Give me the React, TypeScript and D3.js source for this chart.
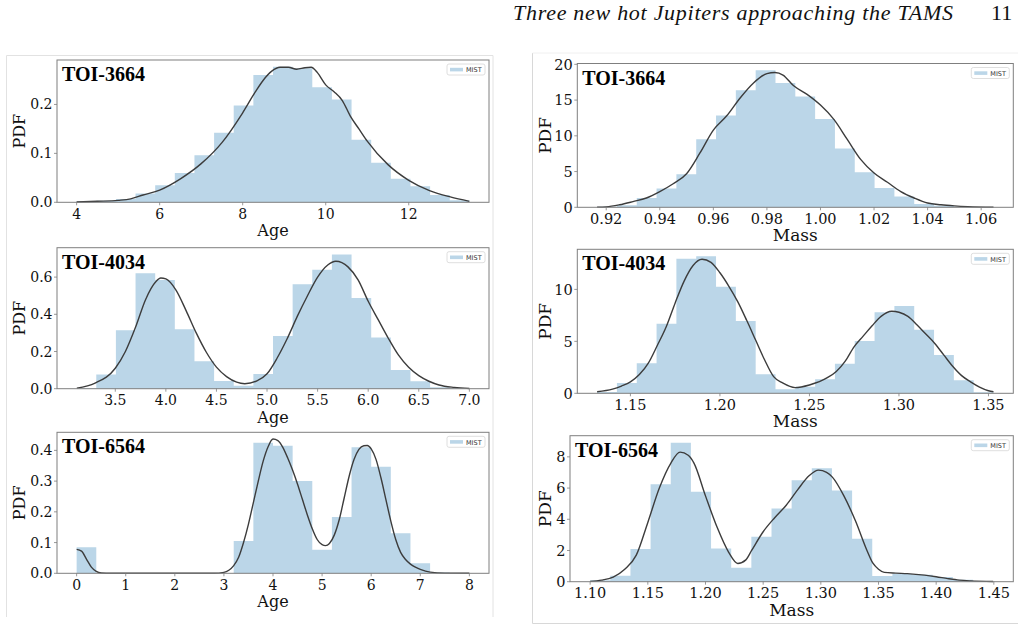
import React from "react";
import * as d3 from "d3";

// values: 20-bin histograms (density) + KDE curves

// TOI-3664 age
const AGE_3664_RANGE = [4.0, 13.46];
const AGE_3664_HIST = [0.002, 0.003, 0.007, 0.018, 0.035, 0.06, 0.096, 0.142, 0.198, 0.26, 0.277, 0.274, 0.235, 0.21, 0.128, 0.081, 0.048, 0.033, 0.015, 0.004];
const AGE_3664_KDE = [
  [4.0, 0.0005], [4.5, 0.002], [5.0, 0.004], [5.3, 0.007], [5.6, 0.015], [6.0, 0.025], [6.5, 0.048], [7.0, 0.079],
  [7.5, 0.122], [8.0, 0.183], [8.3, 0.225], [8.5, 0.25], [8.7, 0.268], [8.9, 0.276], [9.1, 0.276], [9.3, 0.272],
  [9.5, 0.275], [9.65, 0.276], [9.8, 0.265], [10.0, 0.24], [10.2, 0.226], [10.4, 0.208], [10.6, 0.175], [10.8, 0.15],
  [11.0, 0.125], [11.5, 0.077], [12.0, 0.045], [12.5, 0.024], [13.0, 0.011], [13.46, 0.002],
];
const AGE_3664_XTICKS = [4, 6, 8, 10, 12];
const AGE_3664_YTICKS = [0, 0.1, 0.2];

// TOI-4034 age
const AGE_4034_RANGE = [3.118, 7.0];
const AGE_4034_HIST = [0.003, 0.076, 0.314, 0.621, 0.584, 0.32, 0.148, 0.042, 0.016, 0.079, 0.284, 0.561, 0.639, 0.722, 0.487, 0.275, 0.1, 0.04, 0.008, 0.002];
const AGE_4034_KDE = [
  [3.12, 0.003], [3.3, 0.03], [3.5, 0.11], [3.6, 0.2], [3.7, 0.33], [3.8, 0.48], [3.9, 0.575], [3.95, 0.595],
  [4.0, 0.59], [4.1, 0.53], [4.2, 0.42], [4.3, 0.3], [4.4, 0.196], [4.5, 0.116], [4.6, 0.065], [4.7, 0.035],
  [4.78, 0.027], [4.9, 0.042], [5.0, 0.08], [5.1, 0.165], [5.2, 0.27], [5.3, 0.39], [5.4, 0.5], [5.5, 0.6],
  [5.6, 0.665], [5.68, 0.685], [5.8, 0.655], [5.9, 0.585], [6.0, 0.47], [6.1, 0.37], [6.2, 0.27], [6.3, 0.18],
  [6.4, 0.115], [6.5, 0.07], [6.6, 0.04], [6.7, 0.02], [6.85, 0.007], [7.0, 0.001],
];
const AGE_4034_XTICKS = [3.5, 4.0, 4.5, 5.0, 5.5, 6.0, 6.5, 7.0];
const AGE_4034_YTICKS = [0, 0.2, 0.4, 0.6];

// TOI-6564 age
const AGE_6564_RANGE = [0, 8.0];
const AGE_6564_HIST = [0.085, 0, 0, 0, 0, 0, 0, 0, 0.105, 0.425, 0.415, 0.3, 0.077, 0.183, 0.41, 0.347, 0.13, 0.033, 0.003, 0.001];
const AGE_6564_KDE = [
  [0, 0.078], [0.1, 0.072], [0.2, 0.046], [0.3, 0.02], [0.4, 0.006], [0.5, 0.001], [0.7, 0], [2.8, 0],
  [3.0, 0.003], [3.1, 0.01], [3.2, 0.025], [3.3, 0.052], [3.4, 0.1], [3.5, 0.16], [3.6, 0.23], [3.7, 0.3],
  [3.8, 0.365], [3.9, 0.412], [4.0, 0.437], [4.1, 0.432], [4.2, 0.41], [4.3, 0.375], [4.4, 0.335], [4.5, 0.29],
  [4.6, 0.24], [4.7, 0.19], [4.8, 0.145], [4.9, 0.11], [5.0, 0.093], [5.07, 0.09], [5.15, 0.097], [5.25, 0.125],
  [5.35, 0.175], [5.45, 0.245], [5.55, 0.315], [5.65, 0.37], [5.75, 0.403], [5.85, 0.415], [5.92, 0.416],
  [6.0, 0.405], [6.1, 0.37], [6.2, 0.31], [6.3, 0.24], [6.4, 0.17], [6.5, 0.11], [6.6, 0.068], [6.7, 0.045],
  [6.8, 0.03], [6.9, 0.02], [7.0, 0.013], [7.2, 0.004], [7.5, 0.0005], [8.0, 0],
];
const AGE_6564_XTICKS = [0, 1, 2, 3, 4, 5, 6, 7, 8];
const AGE_6564_YTICKS = [0, 0.1, 0.2, 0.3, 0.4];

// TOI-3664 mass
const MASS_3664_RANGE = [0.9166, 1.0646];
const MASS_3664_HIST = [0.06, 0.3, 1.31, 2.62, 4.63, 9.53, 12.85, 16.36, 19.16, 17.38, 15.5, 12.34, 8.22, 4.9, 2.71, 1.5, 0.47, 0.2, 0.08, 0.03];
const MASS_3664_KDE = [
  [0.9166, 0.02], [0.92, 0.06], [0.925, 0.35], [0.93, 0.8], [0.935, 1.3], [0.94, 2.2], [0.945, 3.3], [0.95, 4.7],
  [0.955, 7.6], [0.96, 10.8], [0.965, 12.8], [0.97, 15.3], [0.975, 17.4], [0.98, 18.7], [0.983, 18.85],
  [0.986, 18.5], [0.99, 17.0], [0.995, 15.8], [1.0, 14.3], [1.005, 12.3], [1.01, 9.5], [1.015, 6.7], [1.02, 4.8],
  [1.025, 3.5], [1.03, 2.2], [1.035, 1.3], [1.04, 0.6], [1.045, 0.35], [1.05, 0.2], [1.055, 0.1], [1.0646, 0.02],
];
const MASS_3664_XTICKS = [0.92, 0.94, 0.96, 0.98, 1.0, 1.02, 1.04, 1.06];
const MASS_3664_YTICKS = [0, 5, 10, 15, 20];

// TOI-4034 mass
const MASS_4034_RANGE = [1.1314, 1.3528];
const MASS_4034_HIST = [0.12, 1.0, 2.9, 6.7, 12.95, 13.2, 10.26, 6.96, 1.83, 0.38, 0.64, 1.35, 2.85, 5.03, 7.79, 8.4, 6.12, 3.69, 1.25, 0.1];
const MASS_4034_KDE = [
  [1.1314, 0.15], [1.14, 0.4], [1.145, 0.7], [1.15, 1.1], [1.155, 1.8], [1.16, 2.9], [1.165, 4.6], [1.17, 6.4],
  [1.175, 8.7], [1.18, 10.8], [1.185, 12.3], [1.19, 12.9], [1.195, 12.6], [1.2, 11.6], [1.205, 10.3], [1.21, 8.8],
  [1.215, 7.0], [1.22, 5.1], [1.225, 3.2], [1.23, 1.6], [1.235, 1.0], [1.242, 0.55], [1.25, 0.8], [1.26, 1.5],
  [1.265, 2.1], [1.27, 3.1], [1.275, 4.5], [1.28, 5.5], [1.285, 6.5], [1.29, 7.4], [1.296, 7.9], [1.3, 7.8],
  [1.305, 7.4], [1.31, 6.6], [1.315, 5.7], [1.32, 4.8], [1.325, 3.7], [1.33, 2.6], [1.335, 1.7], [1.34, 1.1],
  [1.345, 0.6], [1.35, 0.25], [1.3528, 0.15],
];
const MASS_4034_XTICKS = [1.15, 1.2, 1.25, 1.3, 1.35];
const MASS_4034_YTICKS = [0, 5, 10];

// TOI-6564 mass
const MASS_6564_RANGE = [1.1, 1.4494];
const MASS_6564_HIST = [0.1, 0.38, 2.09, 6.25, 8.91, 5.76, 2.13, 0.9, 2.88, 4.69, 6.5, 7.27, 5.84, 2.75, 0.36, 0.5, 0.45, 0.3, 0.12, 0.03];
const MASS_6564_KDE = [
  [1.1, 0.02], [1.11, 0.1], [1.12, 0.3], [1.13, 0.8], [1.14, 1.7], [1.15, 3.8], [1.16, 6.0], [1.17, 7.6],
  [1.178, 8.3], [1.185, 8.1], [1.19, 7.6], [1.2, 5.5], [1.21, 3.5], [1.22, 1.9], [1.228, 1.17], [1.235, 1.4],
  [1.24, 2.0], [1.25, 3.2], [1.26, 4.1], [1.27, 4.9], [1.28, 5.9], [1.29, 6.8], [1.298, 7.15], [1.305, 7.0],
  [1.31, 6.7], [1.32, 5.5], [1.33, 3.9], [1.34, 2.0], [1.345, 1.2], [1.35, 0.8], [1.355, 0.6], [1.365, 0.55],
  [1.375, 0.52], [1.39, 0.42], [1.4, 0.32], [1.41, 0.2], [1.42, 0.1], [1.43, 0.05], [1.4494, 0.01],
];
const MASS_6564_XTICKS = [1.1, 1.15, 1.2, 1.25, 1.3, 1.35, 1.4, 1.45];
const MASS_6564_YTICKS = [0, 2, 4, 6, 8];

const HEADER = "Three new hot Jupiters approaching the TAMS";
const PAGE_NO = "11";

const HIST_COLOR = "#1f77b4";
const KDE_COLOR = "#3c3c3c";
const SPINE = "#7f7f7f";
const SERIF = "'DejaVu Serif', serif";
const TIMES = "'Liberation Serif', 'Times New Roman', serif";

// layout (pixel boxes of each axes)
const panels = [
  { name: "TOI-3664", xLabel: "Age", range: AGE_3664_RANGE, hist: AGE_3664_HIST, kde: AGE_3664_KDE, xTicks: AGE_3664_XTICKS, yTicks: AGE_3664_YTICKS, xFmt: "d", yFmt: ".1f", box: { x: 57, y: 60, w: 432, h: 142.3 }, yLabelX: 25, big: false },
  { name: "TOI-4034", xLabel: "Age", range: AGE_4034_RANGE, hist: AGE_4034_HIST, kde: AGE_4034_KDE, xTicks: AGE_4034_XTICKS, yTicks: AGE_4034_YTICKS, xFmt: ".1f", yFmt: ".1f", box: { x: 57, y: 247.7, w: 432, h: 141 }, yLabelX: 25, big: false },
  { name: "TOI-6564", xLabel: "Age", range: AGE_6564_RANGE, hist: AGE_6564_HIST, kde: AGE_6564_KDE, xTicks: AGE_6564_XTICKS, yTicks: AGE_6564_YTICKS, xFmt: "d", yFmt: ".1f", box: { x: 57, y: 432.3, w: 432, h: 141 }, yLabelX: 25, big: false },
  { name: "TOI-3664", xLabel: "Mass", range: MASS_3664_RANGE, hist: MASS_3664_HIST, kde: MASS_3664_KDE, xTicks: MASS_3664_XTICKS, yTicks: MASS_3664_YTICKS, xFmt: ".2f", yFmt: "d", box: { x: 577.3, y: 63.5, w: 436, h: 143.8 }, yLabelX: 551, big: true },
  { name: "TOI-4034", xLabel: "Mass", range: MASS_4034_RANGE, hist: MASS_4034_HIST, kde: MASS_4034_KDE, xTicks: MASS_4034_XTICKS, yTicks: MASS_4034_YTICKS, xFmt: ".2f", yFmt: "d", box: { x: 577.3, y: 249.3, w: 436, h: 144 }, yLabelX: 551, big: true },
  { name: "TOI-6564", xLabel: "Mass", range: MASS_6564_RANGE, hist: MASS_6564_HIST, kde: MASS_6564_KDE, xTicks: MASS_6564_XTICKS, yTicks: MASS_6564_YTICKS, xFmt: ".2f", yFmt: "d", box: { x: 570, y: 435.7, w: 443.3, h: 146 }, yLabelX: 551, big: true },
];

function Panel({ p }: { p: any }) {
  const { x: bx, y: by, w, h } = p.box;
  const [lo, hi] = p.range;
  const pad = 0.05 * (hi - lo);
  const yMax = Math.max(d3.max(p.hist as number[])!, d3.max(p.kde, (d: number[]) => d[1])!) * 1.05;

  const xs = d3.scaleLinear().domain([lo - pad, hi + pad]).range([bx, bx + w]);
  const ys = d3.scaleLinear().domain([0, yMax]).range([by + h, by]);

  const n = p.hist.length;
  const edges = d3.range(n + 1).map((i) => lo + (i * (hi - lo)) / n);
  const heights = [...p.hist, p.hist[n - 1]];
  const area = d3.area<number>()
    .x((i) => xs(edges[i]))
    .y0(ys(0))
    .y1((i) => ys(heights[i]))
    .curve(d3.curveStepAfter);

  const line = d3.line<number[]>()
    .x((d) => xs(d[0]))
    .y((d) => ys(d[1]))
    .curve(d3.curveMonotoneX);

  const xf = d3.format(p.xFmt);
  const yf = d3.format(p.yFmt);
  const tickSize = p.big ? 14.5 : 14;
  const labelSize = p.big ? 17 : 16;
  const right = bx + w;

  return (
    <g>
      <path d={area(d3.range(n + 1))!} fill={HIST_COLOR} fillOpacity={0.3} />
      <path d={line(p.kde)!} fill="none" stroke={KDE_COLOR} strokeWidth={1.4} />
      <rect x={bx} y={by} width={w} height={h} fill="none" stroke={SPINE} strokeWidth={1} />

      {p.xTicks.map((t: number) => (
        <g key={"x" + t}>
          <line x1={xs(t)} x2={xs(t)} y1={by + h} y2={by + h + 3} stroke={SPINE} strokeWidth={0.8} />
          <text x={xs(t)} y={by + h + 16.5} textAnchor="middle" fontFamily={SERIF} fontSize={tickSize} fill="#111">
            {xf(t)}
          </text>
        </g>
      ))}
      {p.yTicks.map((t: number) => (
        <g key={"y" + t}>
          <line x1={bx - 3} x2={bx} y1={ys(t)} y2={ys(t)} stroke={SPINE} strokeWidth={0.8} />
          <text x={bx - 4.5} y={ys(t)} dy="0.36em" textAnchor="end" fontFamily={SERIF} fontSize={tickSize} fill="#111">
            {yf(t)}
          </text>
        </g>
      ))}

      <text x={bx + w / 2} y={by + h + 34} textAnchor="middle" fontFamily={SERIF} fontSize={labelSize} fill="#111">
        {p.xLabel}
      </text>
      <text transform={`translate(${p.yLabelX},${by + h / 2}) rotate(-90)`} textAnchor="middle" fontFamily={SERIF} fontSize={labelSize} fill="#111">
        PDF
      </text>

      <text x={bx + 5} y={by + 21} fontFamily={TIMES} fontWeight="bold" fontSize={20} fill="#000">
        {p.name}
      </text>

      {/* legend */}
      <rect x={right - 42} y={by + 4} width={38} height={11} rx={2} fill="#fff" stroke="#d6d6d6" strokeWidth={0.8} />
      <rect x={right - 39} y={by + 7.8} width={13} height={3.6} fill={HIST_COLOR} fillOpacity={0.3} />
      <text x={right - 23} y={by + 12.3} fontFamily="'DejaVu Sans', sans-serif" fontSize={6.5} fill="#333">
        MIST
      </text>
    </g>
  );
}

export default function App() {
  return (
    <svg width={1025} height={631} style={{ position: "absolute", left: 0, top: 0, background: "#fff" }}>
      <rect width={1025} height={631} fill="#fff" />
      <text x={513} y={20} fontFamily={TIMES} fontStyle="italic" fontSize={22} textLength={440} lengthAdjust="spacing" fill="#111">
        {HEADER}
      </text>
      <text x={991} y={20} fontFamily={TIMES} fontSize={22} fill="#111">
        {PAGE_NO}
      </text>

      {/* faint frames around the two figure columns */}
      <path d="M6.5,617 V55.5 H493 V617" fill="none" stroke="#e2e2e2" strokeWidth={1} />
      <path d="M532.5,53 V623.5 H1018" fill="none" stroke="#d8d8d8" strokeWidth={1} />
      <path d="M532.5,53 H1018" fill="none" stroke="#f0f0f0" strokeWidth={1} />

      {panels.map((p, i) => (
        <Panel key={i} p={p} />
      ))}
    </svg>
  );
}
